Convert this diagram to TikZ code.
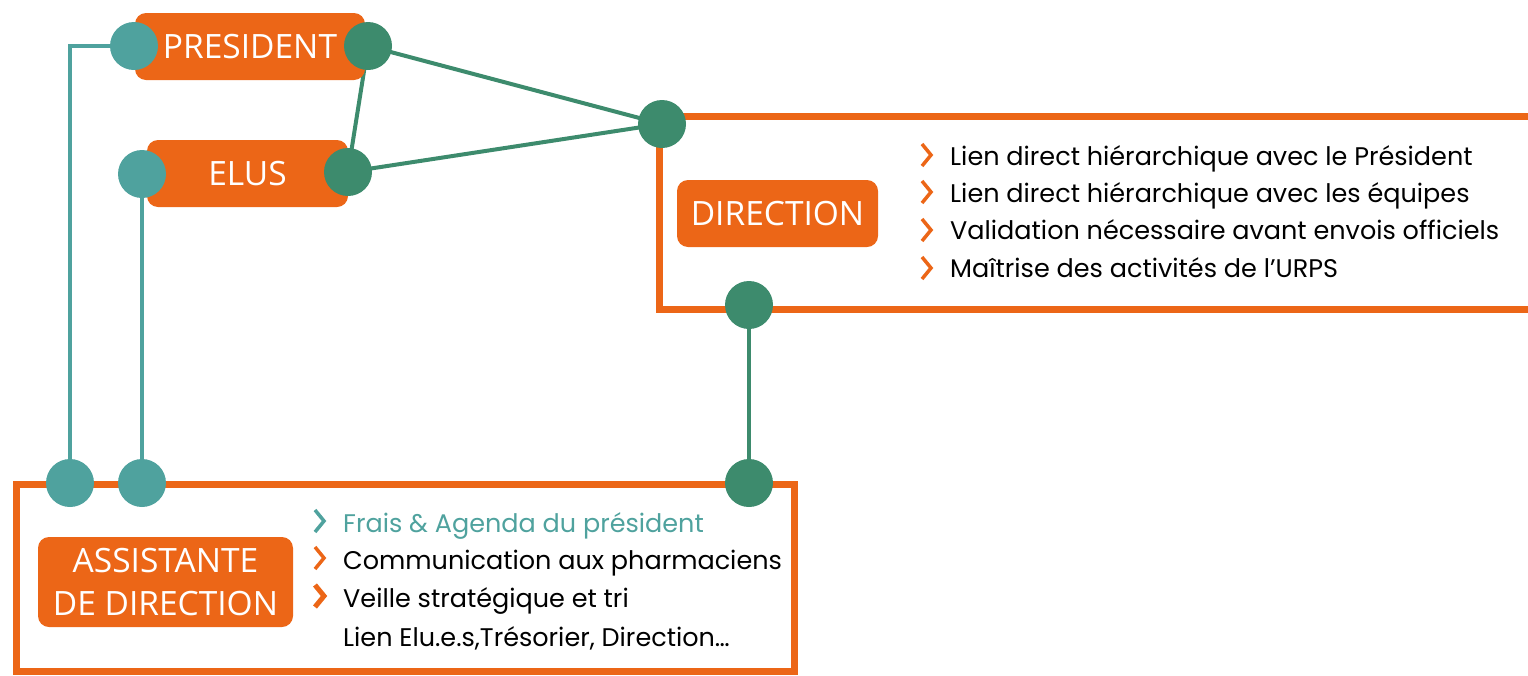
\documentclass[tikz,border=0pt]{standalone}
\usepackage{fontspec}
\setmainfont{Poppins}
\newfontfamily\boxfont{Open Sans}
\usetikzlibrary{backgrounds}
\definecolor{orng}{HTML}{EC6617}
\definecolor{tealc}{HTML}{4FA29E}
\definecolor{grn}{HTML}{3D8B6D}
\begin{document}
\begin{tikzpicture}[x=1pt,y=-1pt,
  lbl/.style={fill=orng, rounded corners=11pt, text=white, font=\boxfont\fontsize{33.5}{43}\selectfont, inner sep=0pt, align=center},
  dotT/.style={circle, fill=tealc, minimum size=48pt, inner sep=0pt},
  dotG/.style={circle, fill=grn, minimum size=48pt, inner sep=0pt},
  frame/.style={draw=orng, line width=7pt},
  linkT/.style={draw=tealc, line width=4pt},
  linkG/.style={draw=grn, line width=4pt},
  item/.style={anchor=base west, font=\fontsize{25.5}{30}\selectfont, inner sep=0pt},
  pics/chv/.style={code={\draw[line width=3.5pt, #1] (-5,-11) -- (4,0) -- (-5,11);}}
]
\useasboundingbox (0,0) rectangle (1528,675);
% frames
\draw[frame] (659,116) rectangle (1545,309);
\draw[frame] (16,484) rectangle (794,671);
% label boxes
\node[lbl, minimum width=230pt, minimum height=67pt] (pres) at (250,46.5) {PRESIDENT};
\node[lbl, minimum width=201pt, minimum height=67pt] (elus) at (247.5,173.5) {ELUS};
\node[lbl, minimum width=201pt, minimum height=67pt] (dir) at (777.5,213.5) {DIRECTION};
\node[lbl, minimum width=255pt, minimum height=90pt] (ass) at (165.5,582) {ASSISTANTE\\DE DIRECTION};
% dots
\node[dotT] (presL) at (134,46) {};
\node[dotG] (presR) at (368,46) {};
\node[dotT] (elusL) at (142,174) {};
\node[dotG] (elusR) at (348,172) {};
\node[dotG] (dirTL) at (662,124) {};
\node[dotG] (dirB) at (749,305) {};
\node[dotT] (assA) at (70,483) {};
\node[dotT] (assB) at (142,483) {};
\node[dotG] (assC) at (749,483) {};
% connectors
\begin{scope}[on background layer]
\draw[linkT] (presL.center) -| (assA.center);
\draw[linkT] (elusL.center) -- (assB.center);
\draw[linkG] (presR.center) -- (dirTL.center);
\draw[linkG] (elusR.center) -- (dirTL.center);
\draw[linkG] (presR.center) -- (elusR.center);
\draw[linkG] (dirB.center) -- (assC.center);
\end{scope}
% direction list
\node[item] (d1) at (950,165) {Lien direct hiérarchique avec le Président};
\node[item] (d2) at (950,202) {Lien direct hiérarchique avec les équipes};
\node[item] (d3) at (950,239.5) {Validation nécessaire avant envois officiels};
\node[item] (d4) at (950,277) {Maîtrise des activités de l’URPS};
\pic at (927,155) {chv=orng};
\pic at (927,192) {chv=orng};
\pic at (927,230) {chv=orng};
\pic at (927,268) {chv=orng};
% assistant list
\node[item, text=tealc] (a1) at (343,532) {Frais \& Agenda du président};
\node[item] (a2) at (343,569) {Communication aux pharmaciens};
\node[item] (a3) at (343,607) {Veille stratégique et tri};
\node[item] (a4) at (343,646) {Lien Elu.e.s,Trésorier, Direction…};
\pic at (320,521) {chv=tealc};
\pic at (320,558) {chv=orng};
\pic at (320,596) {chv={orng,line width=5pt}};
\end{tikzpicture}
\end{document}
